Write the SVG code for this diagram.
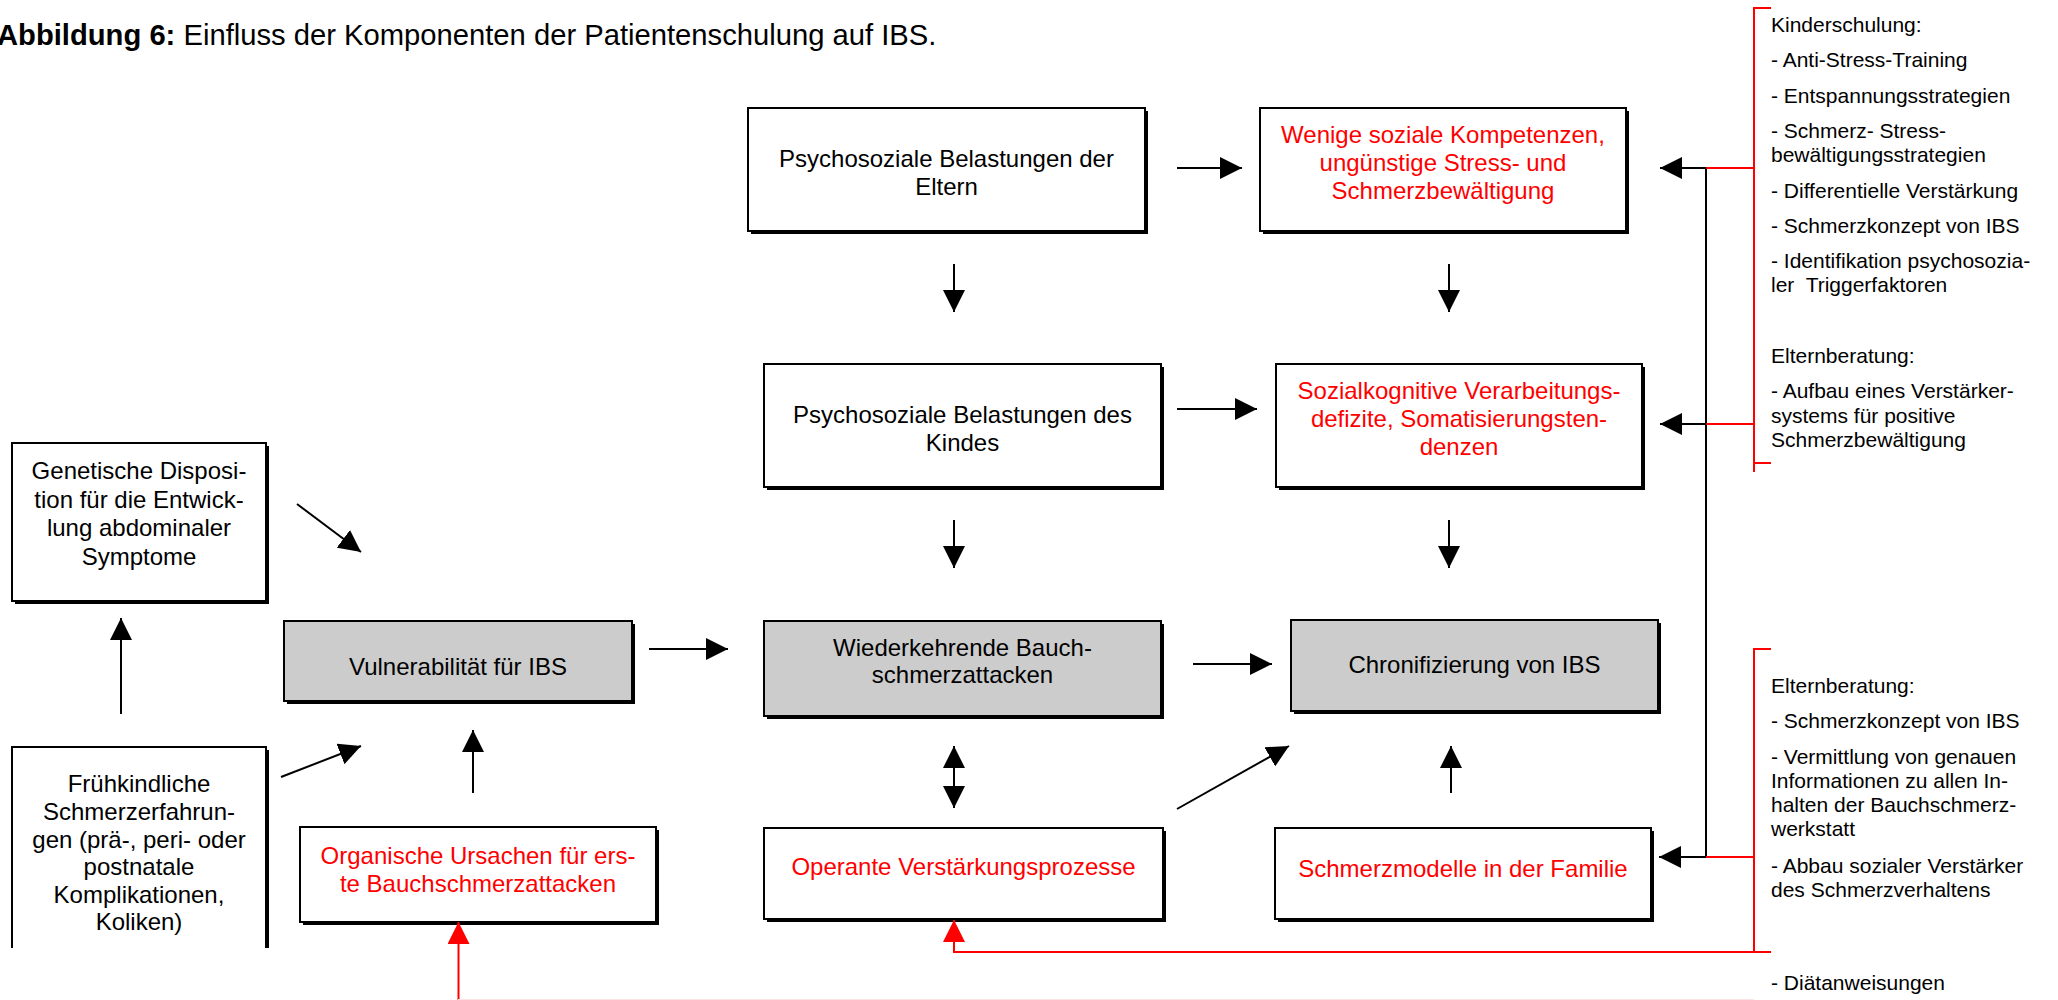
<svg xmlns="http://www.w3.org/2000/svg" width="2058" height="1000" viewBox="0 0 2058 1000">
<style>
text{font-family:"Liberation Sans",Arial,sans-serif}
.t{font-size:24px;text-anchor:middle;fill:#000}
.r{fill:#ff0000}
.s{font-size:21px;fill:#000}
.box{fill:#fff;stroke:#000;stroke-width:2}
.gray{fill:#cccccc;stroke:#000;stroke-width:2}
.sh{fill:#000}
.c{stroke:#000;stroke-width:2;fill:none}
.cr{stroke:#ff0000;stroke-width:2;fill:none}
.title{font-size:29.2px}
</style>
<defs>
<marker id="ah" markerUnits="userSpaceOnUse" markerWidth="22" markerHeight="22" refX="20" refY="10" orient="auto-start-reverse" viewBox="0 0 20 20">
<path d="M0,0 L20,10 L0,20 z" fill="#000"/>
</marker>
<marker id="ahr" markerUnits="userSpaceOnUse" markerWidth="22" markerHeight="22" refX="20" refY="10" orient="auto" viewBox="0 0 20 20">
<path d="M0,0 L20,10 L0,20 z" fill="#ff0000"/>
</marker>
</defs>
<rect width="2058" height="1000" fill="#fff"/>
<text class="title" x="-3" y="45"><tspan font-weight="bold">Abbildung 6:</tspan> Einfluss der Komponenten der Patientenschulung auf IBS.</text>

<g id="n-eltern">
<rect class="sh" x="751" y="111" width="397" height="123"/>
<rect class="box" x="748" y="108" width="397" height="123"/>
<text class="t" x="946.5" y="167">Psychosoziale Belastungen der</text>
<text class="t" x="946.5" y="195">Eltern</text>
</g>
<g id="n-wenige">
<rect class="sh" x="1263" y="111" width="366" height="123"/>
<rect class="box" x="1260" y="108" width="366" height="123"/>
<text class="t r" x="1443" y="143">Wenige soziale Kompetenzen,</text>
<text class="t r" x="1443" y="171">ungünstige Stress- und</text>
<text class="t r" x="1443" y="199">Schmerzbewältigung</text>
</g>
<g id="n-kindes">
<rect class="sh" x="767" y="367" width="397" height="123"/>
<rect class="box" x="764" y="364" width="397" height="123"/>
<text class="t" x="962.5" y="423">Psychosoziale Belastungen des</text>
<text class="t" x="962.5" y="451">Kindes</text>
</g>
<g id="n-sozial">
<rect class="sh" x="1279" y="367" width="366" height="123"/>
<rect class="box" x="1276" y="364" width="366" height="123"/>
<text class="t r" x="1459" y="399">Sozialkognitive Verarbeitungs-</text>
<text class="t r" x="1459" y="427">defizite, Somatisierungsten-</text>
<text class="t r" x="1459" y="455">denzen</text>
</g>
<g id="n-genetisch">
<rect class="sh" x="15" y="446" width="254" height="158"/>
<rect class="box" x="12" y="443" width="254" height="158"/>
<text class="t" x="139" y="479">Genetische Disposi-</text>
<text class="t" x="139" y="507.5">tion für die Entwick-</text>
<text class="t" x="139" y="536">lung abdominaler</text>
<text class="t" x="139" y="564.5">Symptome</text>
</g>
<g id="n-vulnerab">
<rect class="sh" x="287" y="624" width="348" height="80"/>
<rect class="gray" x="284" y="621" width="348" height="80"/>
<text class="t" x="458" y="675">Vulnerabilität für IBS</text>
</g>
<g id="n-wiederk">
<rect class="sh" x="767" y="624" width="397" height="95"/>
<rect class="gray" x="764" y="621" width="397" height="95"/>
<text class="t" x="962.5" y="656">Wiederkehrende Bauch-</text>
<text class="t" x="962.5" y="683">schmerzattacken</text>
</g>
<g id="n-chron">
<rect class="sh" x="1294" y="623" width="367" height="91"/>
<rect class="gray" x="1291" y="620" width="367" height="91"/>
<text class="t" x="1474.5" y="673">Chronifizierung von IBS</text>
</g>
<g id="n-frueh">
<rect class="sh" x="266" y="750" width="3" height="198"/>
<path class="c" d="M12,948 V747 H266 V948"/>
<text class="t" x="139" y="792">Frühkindliche</text>
<text class="t" x="139" y="820">Schmerzerfahrun-</text>
<text class="t" x="139" y="848">gen (prä-, peri- oder</text>
<text class="t" x="139" y="875">postnatale</text>
<text class="t" x="139" y="903">Komplikationen,</text>
<text class="t" x="139" y="930">Koliken)</text>
</g>
<g id="n-organisch">
<rect class="sh" x="303" y="830" width="356" height="95"/>
<rect class="box" x="300" y="827" width="356" height="95"/>
<text class="t r" x="478" y="864">Organische Ursachen für ers-</text>
<text class="t r" x="478" y="892">te Bauchschmerzattacken</text>
</g>
<g id="n-operant">
<rect class="sh" x="767" y="831" width="399" height="91"/>
<rect class="box" x="764" y="828" width="399" height="91"/>
<text class="t r" x="963.5" y="875">Operante Verstärkungsprozesse</text>
</g>
<g id="n-modelle">
<rect class="sh" x="1278" y="831" width="376" height="91"/>
<rect class="box" x="1275" y="828" width="376" height="91"/>
<text class="t r" x="1463" y="877">Schmerzmodelle in der Familie</text>
</g>

<g id="n-kinderschulung">
<text class="s" x="1771" y="32">Kinderschulung:</text>
<text class="s" x="1771" y="67">- Anti-Stress-Training</text>
<text class="s" x="1771" y="103">- Entspannungsstrategien</text>
<text class="s" x="1771" y="138">- Schmerz- Stress-</text>
<text class="s" x="1771" y="162">bewältigungsstrategien</text>
<text class="s" x="1771" y="198">- Differentielle Verstärkung</text>
<text class="s" x="1771" y="233">- Schmerzkonzept von IBS</text>
<text class="s" x="1771" y="268">- Identifikation psychosozia-</text>
<text class="s" x="1771" y="292" style="white-space:pre">ler  Triggerfaktoren</text>
<text class="s" x="1771" y="363">Elternberatung:</text>
<text class="s" x="1771" y="398">- Aufbau eines Verstärker-</text>
<text class="s" x="1771" y="423">systems für positive</text>
<text class="s" x="1771" y="447">Schmerzbewältigung</text>
</g>
<g id="n-elternberatung">
<text class="s" x="1771" y="693">Elternberatung:</text>
<text class="s" x="1771" y="728">- Schmerzkonzept von IBS</text>
<text class="s" x="1771" y="764">- Vermittlung von genauen</text>
<text class="s" x="1771" y="788">Informationen zu allen In-</text>
<text class="s" x="1771" y="812">halten der Bauchschmerz-</text>
<text class="s" x="1771" y="836">werkstatt</text>
<text class="s" x="1771" y="873">- Abbau sozialer Verstärker</text>
<text class="s" x="1771" y="897">des Schmerzverhaltens</text>
</g>
<g id="n-diaet">
<text class="s" x="1771" y="990">- Diätanweisungen</text>
</g>

<g id="connectors">
<line class="c" x1="1177" y1="168" x2="1242" y2="168" marker-end="url(#ah)"/>
<line class="c" x1="954" y1="264" x2="954" y2="312" marker-end="url(#ah)"/>
<line class="c" x1="1449" y1="264" x2="1449" y2="312" marker-end="url(#ah)"/>
<line class="c" x1="1177" y1="409" x2="1257" y2="409" marker-end="url(#ah)"/>
<line class="c" x1="954" y1="520" x2="954" y2="568" marker-end="url(#ah)"/>
<line class="c" x1="1449" y1="520" x2="1449" y2="568" marker-end="url(#ah)"/>
<line class="c" x1="297" y1="504" x2="361" y2="552" marker-end="url(#ah)"/>
<line class="c" x1="121" y1="714" x2="121" y2="618" marker-end="url(#ah)"/>
<line class="c" x1="281" y1="777" x2="361" y2="746" marker-end="url(#ah)"/>
<line class="c" x1="473" y1="793" x2="473" y2="730" marker-end="url(#ah)"/>
<line class="c" x1="649" y1="649" x2="728" y2="649" marker-end="url(#ah)"/>
<line class="c" x1="1193" y1="664" x2="1272" y2="664" marker-end="url(#ah)"/>
<line class="c" x1="954" y1="746" x2="954" y2="808" marker-start="url(#ah)" marker-end="url(#ah)"/>
<line class="c" x1="1177" y1="809" x2="1289" y2="746" marker-end="url(#ah)"/>
<line class="c" x1="1451" y1="793" x2="1451" y2="746" marker-end="url(#ah)"/>
<line class="c" x1="1706" y1="168" x2="1706" y2="857"/>
<line class="c" x1="1706" y1="168" x2="1660" y2="168" marker-end="url(#ah)"/>
<line class="c" x1="1706" y1="424" x2="1660" y2="424" marker-end="url(#ah)"/>
<line class="c" x1="1706" y1="857" x2="1659" y2="857" marker-end="url(#ah)"/>
<line class="cr" x1="1706" y1="168" x2="1754" y2="168"/>
<line class="cr" x1="1706" y1="424" x2="1754" y2="424"/>
<line class="cr" x1="1706" y1="857" x2="1754" y2="857"/>
<path class="cr" d="M1771,8 H1754 V472 M1754,463 H1771"/>
<path class="cr" d="M1771,649 H1754 V952"/>
<path class="cr" d="M1771,952 H954 V920" marker-end="url(#ahr)"/>
<line class="cr" x1="458.5" y1="1000" x2="458.5" y2="922" marker-end="url(#ahr)"/>
<line x1="458" y1="999.5" x2="1754" y2="999.5" stroke="#fbe3e3" stroke-width="1"/>
</g>
</svg>
